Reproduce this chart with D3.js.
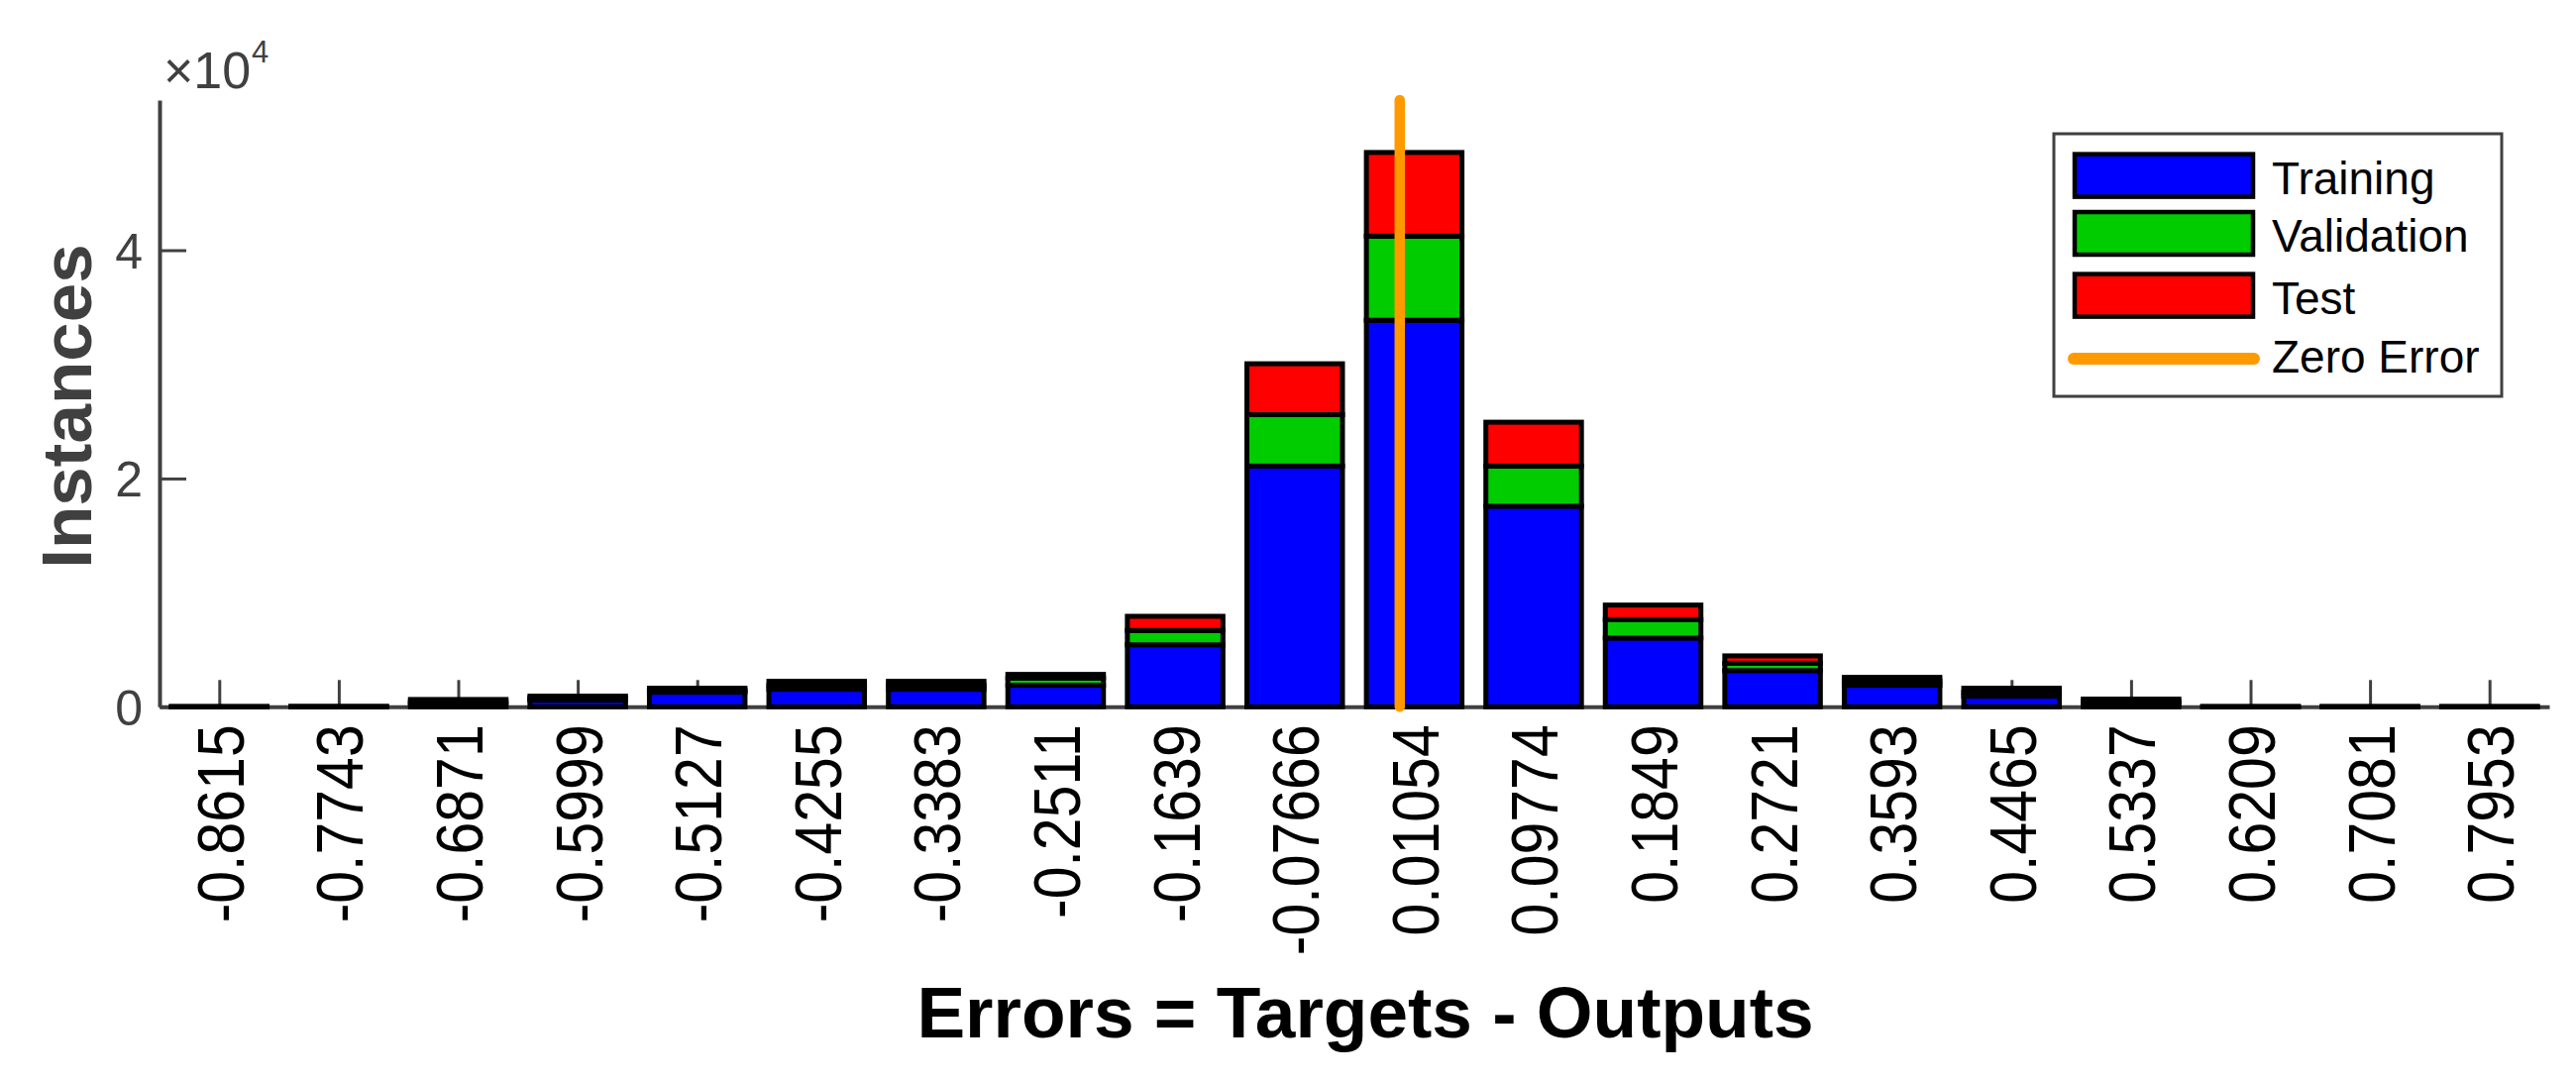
<!DOCTYPE html>
<html><head><meta charset="utf-8">
<script src="https://cdn.jsdelivr.net/npm/d3@7"></script>
<style>body{margin:0;background:#fff}</style>
</head><body>
<svg id="chart" width="2600" height="1093"></svg>
<script>
// ---- data ----
const binLabels = ["-0.8615","-0.7743","-0.6871","-0.5999","-0.5127","-0.4255","-0.3383","-0.2511","-0.1639","-0.07666","0.01054","0.09774","0.1849","0.2721","0.3593","0.4465","0.5337","0.6209","0.7081","0.7953"];
const training   = [5, 10, 260, 580, 1275, 1536, 1536, 1883, 5430, 21090, 33860, 17570, 6020, 3167, 1883, 928, 280, 5, 5, 5];
const validation = [2, 3, 190, 175, 175, 350, 350, 633, 1255, 4500, 7370, 3520, 1620, 642, 350, 350, 200, 2, 2, 2];
const test       = [2, 3, 190, 175, 172, 344, 344, 321, 1240, 4460, 7330, 3840, 1270, 651, 344, 344, 190, 2, 2, 2];
const seriesNames  = ["Training", "Validation", "Test"];
const seriesColors = ["#0000ff", "#00cc00", "#ff0000"];
const zeroErrorValue = 0;
const zeroErrorName = "Zero Error";
const zeroErrorColor = "#ff9900";
const yTickValues = [0, 20000, 40000];
const yTickLabels = ["0", "2", "4"];
const yMax = 53150;
const xLabel = "Errors = Targets - Outputs";
const yLabel = "Instances";

// ---- setup ----
const W = 2600, H = 1093;
const svg = d3.select("#chart");
svg.append("rect").attr("width", W).attr("height", H).attr("fill", "#fff");
const FONT = "'Liberation Sans', Arial, Helvetica, sans-serif";
const axisColor = "#404040";

const centers = binLabels.map(Number);
const n = centers.length;
const bw = (centers[n - 1] - centers[0]) / (n - 1);
const x = d3.scaleLinear().domain([centers[0] - bw / 2, centers[n - 1] + bw / 2]).range([161, 2573]);
const y = d3.scaleLinear().domain([0, yMax]).range([713.3, 101]);

// ---- axes ----
const xAxis = svg.append("g").attr("transform", `translate(0,${y(0)})`)
  .call(d3.axisBottom(x).tickValues(centers).tickSizeInner(-27).tickSizeOuter(0)
    .tickFormat((d, i) => binLabels[i]));
xAxis.select(".domain").attr("stroke", axisColor).attr("stroke-width", 4);
xAxis.selectAll(".tick line").attr("stroke", axisColor).attr("stroke-width", 3);
xAxis.selectAll(".tick text")
  .attr("fill", "#000").attr("font-family", FONT).attr("font-size", 59)
  .attr("text-anchor", "end").attr("x", 0).attr("y", 0).attr("dy", 0)
  .attr("transform", "translate(24,18) rotate(-90) scale(1,1.12)");

const yAxis = svg.append("g").attr("transform", `translate(${x.range()[0]},0)`)
  .call(d3.axisLeft(y).tickValues(yTickValues).tickSizeInner(-27).tickSizeOuter(0)
    .tickFormat((d, i) => yTickLabels[i]));
yAxis.select(".domain").attr("stroke", axisColor).attr("stroke-width", 4);
yAxis.selectAll(".tick line").attr("stroke", axisColor).attr("stroke-width", 3);
yAxis.selectAll(".tick text")
  .attr("fill", axisColor).attr("font-family", FONT).attr("font-size", 50)
  .attr("text-anchor", "end").attr("x", -17).attr("dy", 0).attr("y", 18);
svg.selectAll(".domain").attr("fill", "none");

// exponent label
const expG = svg.append("g").attr("fill", axisColor).attr("font-family", FONT);
expG.append("text").attr("x", 165).attr("y", 89).attr("font-size", 52).text("\u00d710");
expG.append("text").attr("x", 254).attr("y", 63).attr("font-size", 31).text("4");

// ---- stacked bars ----
const rows = centers.map((c, i) => ({ center: c, Training: training[i], Validation: validation[i], Test: test[i] }));
const stacked = d3.stack().keys(seriesNames)(rows);
const barHalf = bw * 0.4;
svg.append("g").selectAll("g").data(stacked).join("g")
  .attr("fill", (d, i) => seriesColors[i])
  .selectAll("rect").data(d => d).join("rect")
  .attr("x", d => x(d.data.center - barHalf))
  .attr("width", d => x(d.data.center + barHalf) - x(d.data.center - barHalf))
  .attr("y", d => y(d[1]))
  .attr("height", d => Math.max(0.05, y(d[0]) - y(d[1])))
  .attr("stroke", "#000").attr("stroke-width", 5);

// ---- zero error line ----
svg.append("line")
  .attr("x1", x(zeroErrorValue)).attr("x2", x(zeroErrorValue))
  .attr("y1", y(0)).attr("y2", y(yMax))
  .attr("stroke", zeroErrorColor).attr("stroke-width", 10.5).attr("stroke-linecap", "round");

// ---- axis labels ----
svg.append("text").attr("x", 1378).attr("y", 1047).attr("text-anchor", "middle")
  .attr("font-family", FONT).attr("font-weight", "bold").attr("font-size", 73).attr("fill", "#000")
  .text(xLabel);
svg.append("text").attr("transform", "translate(92,410) rotate(-90)").attr("text-anchor", "middle")
  .attr("font-family", FONT).attr("font-weight", "bold").attr("font-size", 71).attr("fill", axisColor)
  .text(yLabel);

// ---- legend ----
const lg = svg.append("g");
lg.append("rect").attr("x", 2073).attr("y", 135).attr("width", 452).attr("height", 265)
  .attr("fill", "#fff").attr("stroke", axisColor).attr("stroke-width", 3);
const patchY = [155.6, 214, 276.6];
const textY = [196, 254, 316.5];
seriesNames.forEach((name, i) => {
  lg.append("rect").attr("x", 2094).attr("y", patchY[i]).attr("width", 180).attr("height", 43)
    .attr("fill", seriesColors[i]).attr("stroke", "#000").attr("stroke-width", 4.5);
  lg.append("text").attr("x", 2293).attr("y", textY[i]).attr("font-family", FONT)
    .attr("font-size", 46).attr("fill", "#000").text(name);
});
lg.append("line").attr("x1", 2093).attr("x2", 2275).attr("y1", 362).attr("y2", 362)
  .attr("stroke", zeroErrorColor).attr("stroke-width", 12).attr("stroke-linecap", "round");
lg.append("text").attr("x", 2293).attr("y", 376).attr("font-family", FONT)
  .attr("font-size", 46).attr("fill", "#000").text(zeroErrorName);
</script>
</body></html>
